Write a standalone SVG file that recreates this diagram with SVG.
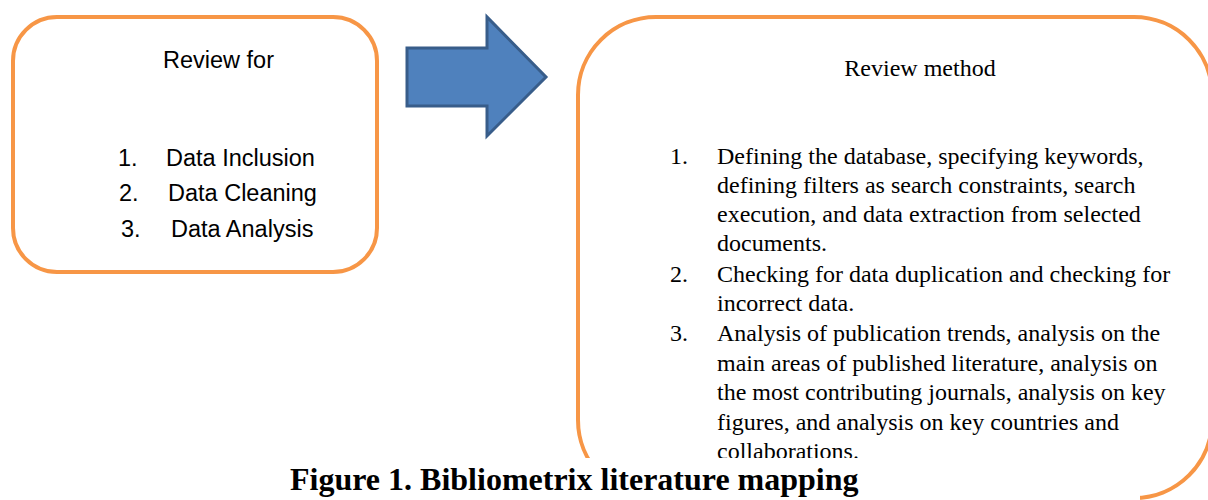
<svg xmlns="http://www.w3.org/2000/svg" width="1208" height="500" viewBox="0 0 1208 500">
  <style>
    .box { fill: #FFFFFF; stroke: #F79646; stroke-width: 4; }
    .sans { font-family: "Liberation Sans", Arial, sans-serif; font-size: 23.5px; fill: #000000; }
    .serif { font-family: "Liberation Serif", "Times New Roman", serif; font-size: 24px; fill: #000000; }
    .caption { font-family: "Liberation Serif", "Times New Roman", serif; font-size: 32px; font-weight: bold; fill: #000000; }
  </style>
  <rect width="1208" height="500" fill="#FFFFFF"/>

  <g id="review-for">
    <rect class="box" x="13" y="17" width="364" height="255" rx="44" ry="44"/>
    <text class="sans" x="218.5" y="68" text-anchor="middle">Review for</text>
    <text class="sans" x="118" y="166">1.</text>
    <text class="sans" x="166" y="166">Data Inclusion</text>
    <text class="sans" x="119" y="201">2.</text>
    <text class="sans" x="168" y="201">Data Cleaning</text>
    <text class="sans" x="121" y="236.5">3.</text>
    <text class="sans" x="171" y="236.5">Data Analysis</text>
  </g>

  <g id="connectors">
    <polygon points="407,48 487,48 487,17 546,77 487,136 487,106 407,106" fill="#4F81BD" stroke="#385D8A" stroke-width="3" stroke-linejoin="miter"/>
  </g>

  <g id="review-method">
    <rect class="box" x="578" y="17" width="634" height="481" rx="78" ry="78"/>
    <text class="serif" x="920" y="76" text-anchor="middle">Review method</text>
    <text class="serif" x="670" y="163.5">1.</text>
    <text class="serif" x="717" y="163.5">Defining the database, specifying keywords,</text>
    <text class="serif" x="717" y="192.8">defining filters as search constraints, search</text>
    <text class="serif" x="717" y="222">execution, and data extraction from selected</text>
    <text class="serif" x="717" y="251">documents.</text>
    <text class="serif" x="670" y="281.5">2.</text>
    <text class="serif" x="717" y="281.5">Checking for data duplication and checking for</text>
    <text class="serif" x="717" y="311">incorrect data.</text>
    <text class="serif" x="670" y="341">3.</text>
    <text class="serif" x="717" y="341">Analysis of publication trends, analysis on the</text>
    <text class="serif" x="717" y="370.5">main areas of published literature, analysis on</text>
    <text class="serif" x="717" y="400">the most contributing journals, analysis on key</text>
    <text class="serif" x="717" y="429.5">figures, and analysis on key countries and</text>
    <text class="serif" x="717" y="459">collaborations.</text>
  </g>

  <g id="caption">
    <rect x="0" y="458" width="1140" height="42" fill="#FFFFFF"/>
    <text class="caption" x="290" y="490">Figure 1. Bibliometrix literature mapping</text>
  </g>
</svg>
